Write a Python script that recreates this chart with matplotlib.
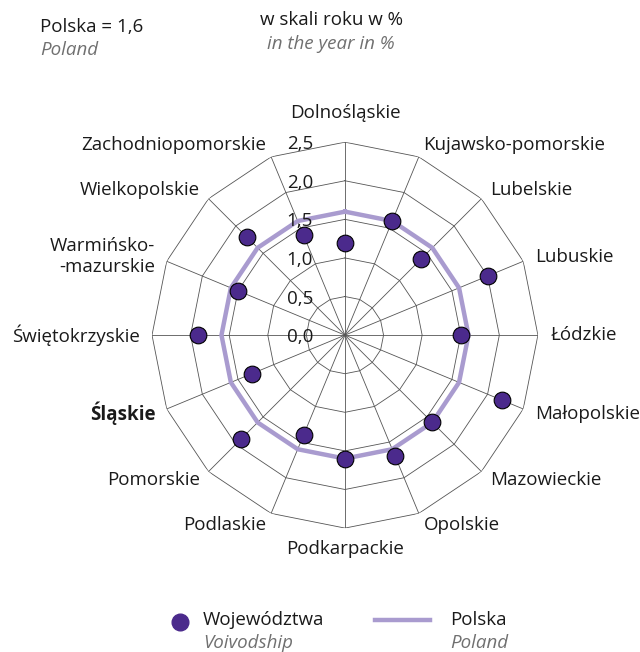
import matplotlib
matplotlib.use('Agg')
import matplotlib.pyplot as plt
from matplotlib.transforms import offset_copy
import numpy as np

# dane
regions = ['Dolnośląskie', 'Kujawsko-pomorskie', 'Lubelskie', 'Lubuskie', 'Łódzkie',
           'Małopolskie', 'Mazowieckie', 'Opolskie', 'Podkarpackie', 'Podlaskie',
           'Pomorskie', 'Śląskie', 'Świętokrzyskie', 'Warmińsko-\n-mazurskie',
           'Wielkopolskie', 'Zachodniopomorskie']
values = [1.2, 1.6, 1.4, 2.0, 1.5, 2.2, 1.6, 1.7, 1.6, 1.4, 1.9, 1.3, 1.9, 1.5, 1.8, 1.4]
poland = 1.6
rings = [0.5, 1.0, 1.5, 2.0, 2.5]
ring_labels = ['0,0', '0,5', '1,0', '1,5', '2,0', '2,5']

plt.rcParams['font.family'] = ['Open Sans', 'DejaVu Sans']
fs = 13.5
dot_col = '#4b2a8c'
line_col = '#a99bcf'
grid_col = '#555555'
txt_col = '#1a1a1a'
sub_col = '#707070'

fig = plt.figure(figsize=(6.4, 6.52), dpi=100)
ax = fig.add_axes([0.2375, 0.190, 0.603, 0.592], projection='polar')
ax.set_theta_zero_location('N')
ax.set_theta_direction(-1)
ax.set_ylim(0, 2.5)
ax.axis('off')

n = len(regions)
ang = np.arange(n) * 2 * np.pi / n
ang_c = np.append(ang, ang[0])

# siatka wielokatna
for r in rings:
    ax.plot(ang_c, [r] * (n + 1), color=grid_col, lw=0.6, zorder=1)
for a in ang:
    ax.plot([a, a], [0, 2.5], color=grid_col, lw=0.6, zorder=1)

# Polska
ax.plot(ang_c, [poland] * (n + 1), color=line_col, lw=3.2, zorder=2, solid_joinstyle='miter')
# wojewodztwa
ax.plot(ang, values, linestyle='none', marker='o', ms=12, mfc=dot_col, mec='black',
        mew=0.8, zorder=3)

# opisy skali
tr = offset_copy(ax.transData, fig=fig, x=-32, y=-2, units='dots')
for i, lab in enumerate(ring_labels):
    ax.text(0, i * 0.5, lab, transform=tr, ha='right', va='center', fontsize=fs,
            color=txt_col, zorder=4)

# nazwy wojewodztw
for a, lab in zip(ang, regions):
    deg = np.degrees(a) % 360
    rr = 2.66
    if deg < 1:
        ha, va = 'center', 'bottom'
        rr = 2.76
    elif abs(deg - 180) < 1:
        ha, va = 'center', 'top'
    elif deg < 180:
        ha, va = 'left', 'center'
    else:
        ha, va = 'right', 'center'
    w = 'bold' if lab == 'Śląskie' else 'normal'
    ax.text(a, rr, lab, ha=ha, va=va, fontsize=fs, color=txt_col, fontweight=w,
            linespacing=1.25)

# naglowek
fig.text(40 / 640, 1 - 27 / 652, 'Polska = 1,6', ha='left', va='center', fontsize=fs, color=txt_col)
fig.text(40 / 640, 1 - 50 / 652, 'Poland', ha='left', va='center', fontsize=fs, color=sub_col, style='italic')
fig.text(331 / 640, 1 - 20 / 652, 'w skali roku w %', ha='center', va='center', fontsize=fs, color=txt_col)
fig.text(331 / 640, 1 - 44 / 652, 'in the year in %', ha='center', va='center', fontsize=fs, color=sub_col, style='italic')

# legenda
lg = fig.add_axes([0, 0, 1, 1], facecolor='none')
lg.set_xlim(0, 640)
lg.set_ylim(652, 0)
lg.axis('off')
lg.plot([180], [622], marker='o', ms=12, mfc=dot_col, mec=dot_col, linestyle='none')
lg.plot([375, 430], [620, 620], color=line_col, lw=3.2)
lg.text(203, 620, 'Województwa', ha='left', va='center', fontsize=fs, color=txt_col)
lg.text(203, 643, 'Voivodship', ha='left', va='center', fontsize=fs, color=sub_col, style='italic')
lg.text(450, 620, 'Polska', ha='left', va='center', fontsize=fs, color=txt_col)
lg.text(450, 643, 'Poland', ha='left', va='center', fontsize=fs, color=sub_col, style='italic')

plt.savefig('out.png', dpi=100)
